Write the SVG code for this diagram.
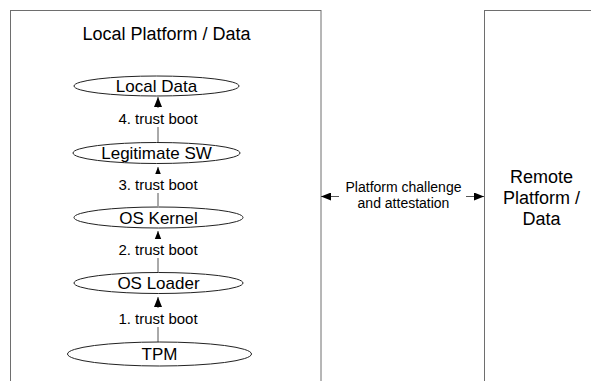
<svg xmlns="http://www.w3.org/2000/svg" width="591" height="381" viewBox="0 0 591 381">
  <defs>
    <marker id="head" markerWidth="10" markerHeight="8" refX="10" refY="4" orient="auto" markerUnits="userSpaceOnUse">
      <path d="M0,0 L10,4 L0,8 Z" fill="#000"/>
    </marker>
    <marker id="tail" markerWidth="10" markerHeight="8" refX="0" refY="4" orient="auto" markerUnits="userSpaceOnUse">
      <path d="M10,0 L0,4 L10,8 Z" fill="#000"/>
    </marker>
  </defs>
  <style>
    text { font-family: "Liberation Sans", Arial, sans-serif; fill: #000; text-anchor: middle; }
    .frame { fill: none; stroke: #6e6e6e; stroke-width: 1; }
    .node ellipse { fill: #fff; stroke: #222; stroke-width: 1; }
    .node text { font-size: 17px; }
    .title { font-size: 18px; }
    .edge line { stroke: #555; stroke-width: 1; }
    .lbl { font-size: 15px; }
    .lbl2 { font-size: 14px; }
    .lblbg { fill: #fff; }
  </style>
  <rect width="591" height="381" fill="#fff"/>

  <!-- platform containers -->
  <g id="local-platform">
    <rect class="frame" x="10.5" y="10.5" width="310.5" height="400"/>
    <text class="title" x="166.5" y="40">Local Platform / Data</text>
  </g>
  <g id="remote-platform">
    <rect class="frame" x="484.5" y="10.5" width="150" height="400"/>
    <text class="title" x="541.5" y="183">Remote</text>
    <text class="title" x="541.5" y="204">Platform /</text>
    <text class="title" x="541.5" y="225">Data</text>
  </g>

  <!-- connectors -->
  <g id="connectors" class="edge">
    <line x1="158" y1="342" x2="158" y2="297" marker-end="url(#head)"/>
    <line x1="158" y1="272" x2="158" y2="231" marker-end="url(#head)"/>
    <line x1="158" y1="206" x2="158" y2="167" marker-end="url(#head)"/>
    <line x1="158" y1="142" x2="158" y2="97" marker-end="url(#head)"/>
    <line x1="321" y1="196.5" x2="484" y2="196.5" marker-start="url(#tail)" marker-end="url(#head)"/>

    <rect class="lblbg" x="116" y="308" width="84" height="19"/>
    <text class="lbl" x="158" y="323.5">1. trust boot</text>
    <rect class="lblbg" x="116" y="239" width="84" height="19"/>
    <text class="lbl" x="158" y="254.5">2. trust boot</text>
    <rect class="lblbg" x="116" y="174" width="84" height="19"/>
    <text class="lbl" x="158" y="189.5">3. trust boot</text>
    <rect class="lblbg" x="116" y="108" width="84" height="19"/>
    <text class="lbl" x="158" y="123.5">4. trust boot</text>

    <rect class="lblbg" x="339" y="178" width="127" height="34"/>
    <text class="lbl2" x="403.5" y="192">Platform challenge</text>
    <text class="lbl2" x="403.5" y="208">and attestation</text>
  </g>

  <!-- boot chain -->
  <g id="local-data" class="node">
    <ellipse cx="156.5" cy="86" rx="82.5" ry="10"/>
    <text x="156.5" y="92">Local Data</text>
  </g>
  <g id="legitimate-sw" class="node">
    <ellipse cx="156.5" cy="153" rx="83.5" ry="10.5"/>
    <text x="156.5" y="159">Legitimate SW</text>
  </g>
  <g id="os-kernel" class="node">
    <ellipse cx="158.5" cy="217.5" rx="84.5" ry="10.5"/>
    <text x="158.5" y="223.5">OS Kernel</text>
  </g>
  <g id="os-loader" class="node">
    <ellipse cx="158.5" cy="283" rx="84.5" ry="10.5"/>
    <text x="158.5" y="289">OS Loader</text>
  </g>
  <g id="tpm" class="node">
    <ellipse cx="159.5" cy="354" rx="92" ry="12"/>
    <text x="159.5" y="360">TPM</text>
  </g>
</svg>
